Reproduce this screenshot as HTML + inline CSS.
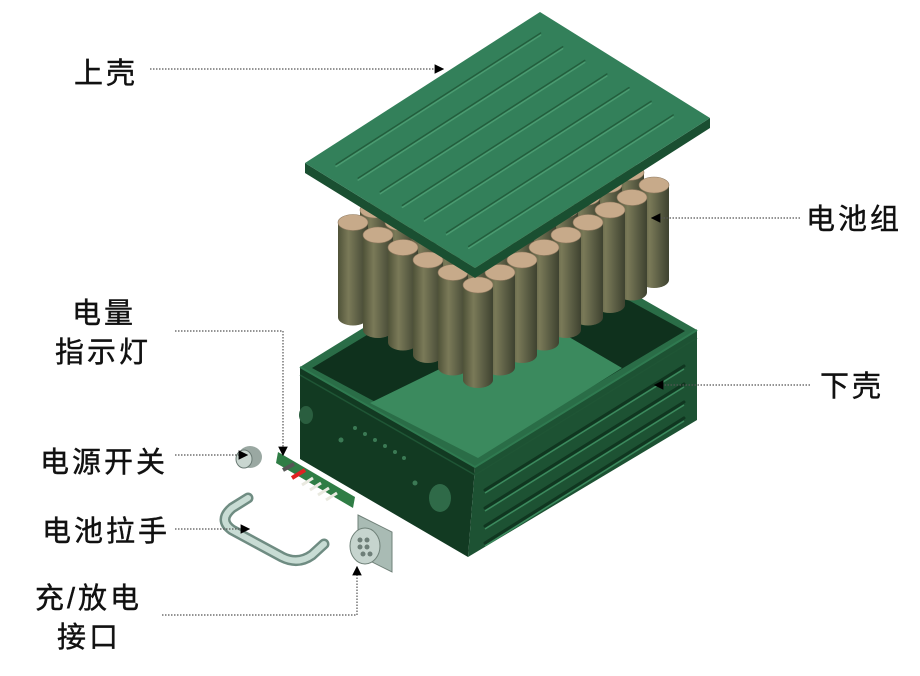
<!DOCTYPE html>
<html><head><meta charset="utf-8"><style>
html,body{margin:0;padding:0;background:#fff;}
svg{display:block}
text{font-family:"Liberation Sans","Noto Sans CJK SC",sans-serif;font-size:29px;fill:#111;letter-spacing:3px;stroke:#111;stroke-width:0.4}
</style></head><body>
<svg id="s" width="920" height="676" viewBox="0 0 920 676" xmlns="http://www.w3.org/2000/svg">
<defs>
<linearGradient id="cyl" x1="0" x2="1" y1="0" y2="0">
<stop offset="0" stop-color="#4f5238"/><stop offset="0.35" stop-color="#7a7a58"/><stop offset="1" stop-color="#3e4230"/>
</linearGradient>
<marker id="ar" markerWidth="8" markerHeight="8" refX="7" refY="4" orient="auto"><path d="M0,0 L8,4 L0,8z" fill="#000"/></marker>
</defs>

<!-- lower box -->
<polygon points="300,367 475,467 468,557 300,459" fill="#123a22"/>
<polygon points="475,467 697,330 697,420 468,557" fill="#1d5233"/>
<polygon points="300,367 522,230 697,330 475,467" fill="#2a6d47"/>
<polygon points="312,368 522,242 685,331 476,456" fill="#0f311d"/>
<polygon points="370,403 478,458 622,368 540,320" fill="#3b8a5e"/>
<polyline points="300,367 475,467 697,330" fill="none" stroke="#2f7a50" stroke-width="2"/>
<polyline points="300,375 475,475 697,338" fill="none" stroke="#1f5535" stroke-width="1.5"/>
<g stroke="#103620" stroke-width="3" fill="none" stroke-linecap="round">
<line x1="485" y1="490" x2="684" y2="366"/><line x1="485" y1="508" x2="684" y2="384"/>
<line x1="485" y1="526" x2="684" y2="402"/><line x1="485" y1="543" x2="684" y2="418"/>
</g>
<g stroke="#3c8a5e" stroke-width="1.5" fill="none">
<line x1="485" y1="493" x2="684" y2="369"/><line x1="485" y1="511" x2="684" y2="387"/>
<line x1="485" y1="529" x2="684" y2="405"/><line x1="485" y1="546" x2="684" y2="421"/>
</g>
<ellipse cx="306" cy="415" rx="7" ry="9" fill="#2a5e3f"/>
<ellipse cx="440" cy="498" rx="11" ry="14" fill="#2f6a48"/>
<g fill="#3b7a55"><circle cx="341" cy="440" r="2.5"/><circle cx="355" cy="428" r="2"/><circle cx="365" cy="434" r="2"/><circle cx="375" cy="440" r="2"/><circle cx="385" cy="446" r="2"/><circle cx="395" cy="452" r="2"/><circle cx="404" cy="458" r="2"/><circle cx="415" cy="483" r="2.5"/></g>

<g id="cells"></g>

<!-- lid -->
<polygon points="305,163 475,268 710,118 710,128 475,278 305,173" fill="#1a4f31"/>
<polygon points="305,163 540,12 710,118 475,268" fill="#33805a"/>
<g id="grooves"></g>

<g><ellipse cx="250" cy="457" rx="12" ry="11" fill="#9aa8a2"/><ellipse cx="244" cy="459" rx="8" ry="9" fill="#c9d6d0" stroke="#6a7a74"/></g>
<polygon points="278,452 355,497 353,508 276,463" fill="#2f7d45"/>
<line x1="292" y1="478" x2="305" y2="470" stroke="#d22" stroke-width="4"/>
<g stroke="#e9e9e0" stroke-width="3"><line x1="302" y1="485" x2="313" y2="478"/><line x1="310" y1="490" x2="321" y2="483"/><line x1="318" y1="495" x2="329" y2="488"/><line x1="326" y1="500" x2="337" y2="493"/></g>
<line x1="283" y1="470" x2="294" y2="464" stroke="#555" stroke-width="4"/>
<path d="M248,498 L232,508 Q218,520 232,530 L282,557 Q298,565 312,555 L324,544" fill="none" stroke="#6f8c82" stroke-width="11" stroke-linecap="round"/>
<path d="M248,498 L232,508 Q218,520 232,530 L282,557 Q298,565 312,555 L324,544" fill="none" stroke="#c8dcd4" stroke-width="6" stroke-linecap="round"/>
<polygon points="358,515 392,532 392,572 358,555" fill="#a9bbb4" stroke="#6f8078"/>
<ellipse cx="365" cy="546" rx="15" ry="18" fill="#c6d4ce" stroke="#6f8078"/>
<g fill="#6e7e78"><circle cx="360" cy="540" r="2.5"/><circle cx="367" cy="540" r="2.5"/><circle cx="360" cy="547" r="2.5"/><circle cx="367" cy="547" r="2.5"/><circle cx="363" cy="554" r="2.5"/><circle cx="370" cy="554" r="2.5"/></g>

<g stroke="#555" stroke-width="1.2" stroke-dasharray="1.5,1.5" fill="none">
<line x1="150" y1="69" x2="443" y2="69" marker-end="url(#ar)"/>
<line x1="800" y1="218" x2="652" y2="218" marker-end="url(#ar)"/>
<line x1="810" y1="385" x2="655" y2="385" marker-end="url(#ar)"/>
<polyline points="175,331 283,331 283,455" marker-end="url(#ar)"/>
<line x1="175" y1="455" x2="247" y2="455" marker-end="url(#ar)"/>
<line x1="175" y1="529" x2="249" y2="529" marker-end="url(#ar)"/>
<polyline points="162,615 357,615 357,567" marker-end="url(#ar)"/>
</g>

<text x="74" y="83">上壳</text>
<text x="806" y="229">电池组</text>
<text x="820" y="396">下壳</text>
<text x="72" y="323">电量</text>
<text x="55" y="362">指示灯</text>
<text x="40" y="472">电源开关</text>
<text x="42" y="541">电池拉手</text>
<text x="35" y="608">充/放电</text>
<text x="57" y="647">接口</text>
</svg>
<script>
var NS="http://www.w3.org/2000/svg",g=document.getElementById("cells"),L=[];
for(var i=0;i<9;i++)for(var j=0;j<6;j++)L.push([i,j]);
L.sort(function(a,b){return (b[0]+b[1])-(a[0]+a[1]);});
L.forEach(function(p){var x=478+22*p[0]-25*p[1],y=285-12.5*p[0]-12.5*p[1],r=15,ry=8,h=95;
var b=document.createElementNS(NS,"path");
b.setAttribute("d","M"+(x-r)+","+y+" L"+(x-r)+","+(y+h)+" A"+r+","+ry+" 0 0 0 "+(x+r)+","+(y+h)+" L"+(x+r)+","+y+"z");
b.setAttribute("fill","url(#cyl)");g.appendChild(b);
var e=document.createElementNS(NS,"ellipse");e.setAttribute("cx",x);e.setAttribute("cy",y);e.setAttribute("rx",r);e.setAttribute("ry",ry);e.setAttribute("fill","#c7aa8a");e.setAttribute("stroke","#8f7a60");e.setAttribute("stroke-width","0.6");g.appendChild(e);});
var gr=document.getElementById("grooves");
for(var k=0;k<7;k++){var t=0.1+0.13*k;var sx=305+170*t+235*0.06,sy=163+105*t-151*0.06,ex=305+170*t+235*0.93,ey=163+105*t-151*0.93;
[["#235e3d",0],["#4a9a70",2]].forEach(function(c){var l=document.createElementNS(NS,"line");l.setAttribute("x1",sx);l.setAttribute("y1",sy+c[1]);l.setAttribute("x2",ex);l.setAttribute("y2",ey+c[1]);l.setAttribute("stroke",c[0]);l.setAttribute("stroke-width","1.5");l.setAttribute("stroke-linecap","round");gr.appendChild(l);});}
</script>
</body></html>
